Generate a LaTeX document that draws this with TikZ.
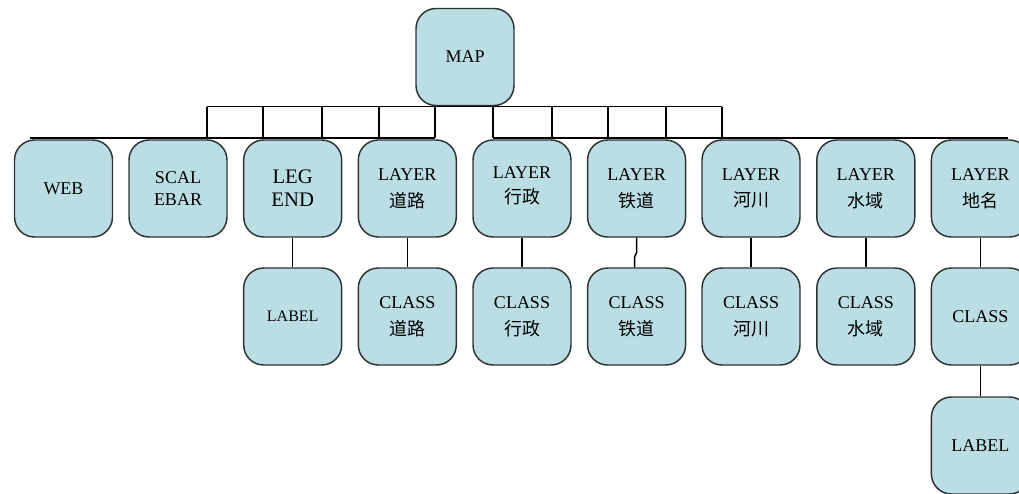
\documentclass[tikz,border=0pt]{standalone}
\usepackage{fontspec}
\setmainfont{Liberation Serif}
\newfontfamily\cjk{Noto Sans CJK SC}
\definecolor{boxfill}{RGB}{187,222,228}
\definecolor{boxline}{RGB}{45,50,52}
\begin{document}
\begin{tikzpicture}[x=0.75pt,y=-0.75pt,
  boxnode/.style={draw=boxline,line width=1.1pt,fill=boxfill,rounded corners=15pt,
    minimum width=73.5pt,minimum height=72.75pt,inner sep=0pt,align=center,
    font=\fontsize{13.5}{20}\selectfont},
  twoline/.style={font=\fontsize{13.5}{17}\selectfont},
  bigtext/.style={font=\fontsize{15.5}{17}\selectfont},
  smalltext/.style={font=\fontsize{12}{16}\selectfont},
  wire/.style={draw=black,line width=1.1pt}]
\useasboundingbox (0,0) rectangle (1019,493);
% MAP
\node[boxnode] (map) at (465,57) {MAP};
% row 1
\node[boxnode] (web) at (63.5,188.5) {WEB};
\node[boxnode,twoline] (scale) at (178,188.5) {SCAL\\EBAR};
\node[boxnode,bigtext] (legend) at (292.7,188.5) {LEG\\END};
\node[boxnode] (l1) at (407.3,188.5) {LAYER\\{\cjk 道路}};
\node[boxnode] (l2) at (522,188.5) {\raisebox{5pt}{\shortstack{LAYER\\[4pt]{\cjk 行政}}}};
\node[boxnode] (l3) at (636.6,188.5) {LAYER\\{\cjk 铁道}};
\node[boxnode] (l4) at (751,188.5) {LAYER\\{\cjk 河川}};
\node[boxnode] (l5) at (865.8,188.5) {LAYER\\{\cjk 水域}};
\node[boxnode] (l6) at (980.4,188.5) {LAYER\\{\cjk 地名}};
% row 2
\node[boxnode,smalltext] (lab1) at (292.7,316.5) {LABEL};
\node[boxnode] (c1) at (407.3,316.5) {CLASS\\{\cjk 道路}};
\node[boxnode] (c2) at (522,316.5) {CLASS\\{\cjk 行政}};
\node[boxnode] (c3) at (636.6,316.5) {CLASS\\{\cjk 铁道}};
\node[boxnode] (c4) at (751,316.5) {CLASS\\{\cjk 河川}};
\node[boxnode] (c5) at (865.8,316.5) {CLASS\\{\cjk 水域}};
\node[boxnode] (c6) at (980.4,316.5) {CLASS};
% row 3
\node[boxnode] (lab2) at (980.4,445.5) {LABEL};
% ladder under MAP
\coordinate (tl) at (207,106.5);
\coordinate (tr) at (722,106.5);
\coordinate (bl) at (30,138);
\coordinate (bm1) at (435,138);
\coordinate (bm2) at (493,138);
\coordinate (br) at (1008,138);
\draw[wire] (tl) -- (tr);
\draw[wire] (bl) -- (bm1);
\draw[wire] (bm2) -- (br);
\foreach \xx in {207,263,322,379,435,493,552,608,666,722}{
  \draw[wire] (\xx,106.5) -- (\xx,138);
}
% vertical connectors
\draw[wire] (legend.south) -- (lab1.north);
\draw[wire] (l1.south) -- (c1.north);
\draw[wire] (l2.south) -- (c2.north);
\draw[wire] (l3.south) -- ++(0,15) -- ++(-2,4) -- ([xshift=-1.5pt]c3.north);
\draw[wire] (l4.south) -- (c4.north);
\draw[wire] (l5.south) -- (c5.north);
\draw[wire] (l6.south) -- (c6.north);
\draw[wire] (c6.south) -- (lab2.north);
\end{tikzpicture}
\end{document}
